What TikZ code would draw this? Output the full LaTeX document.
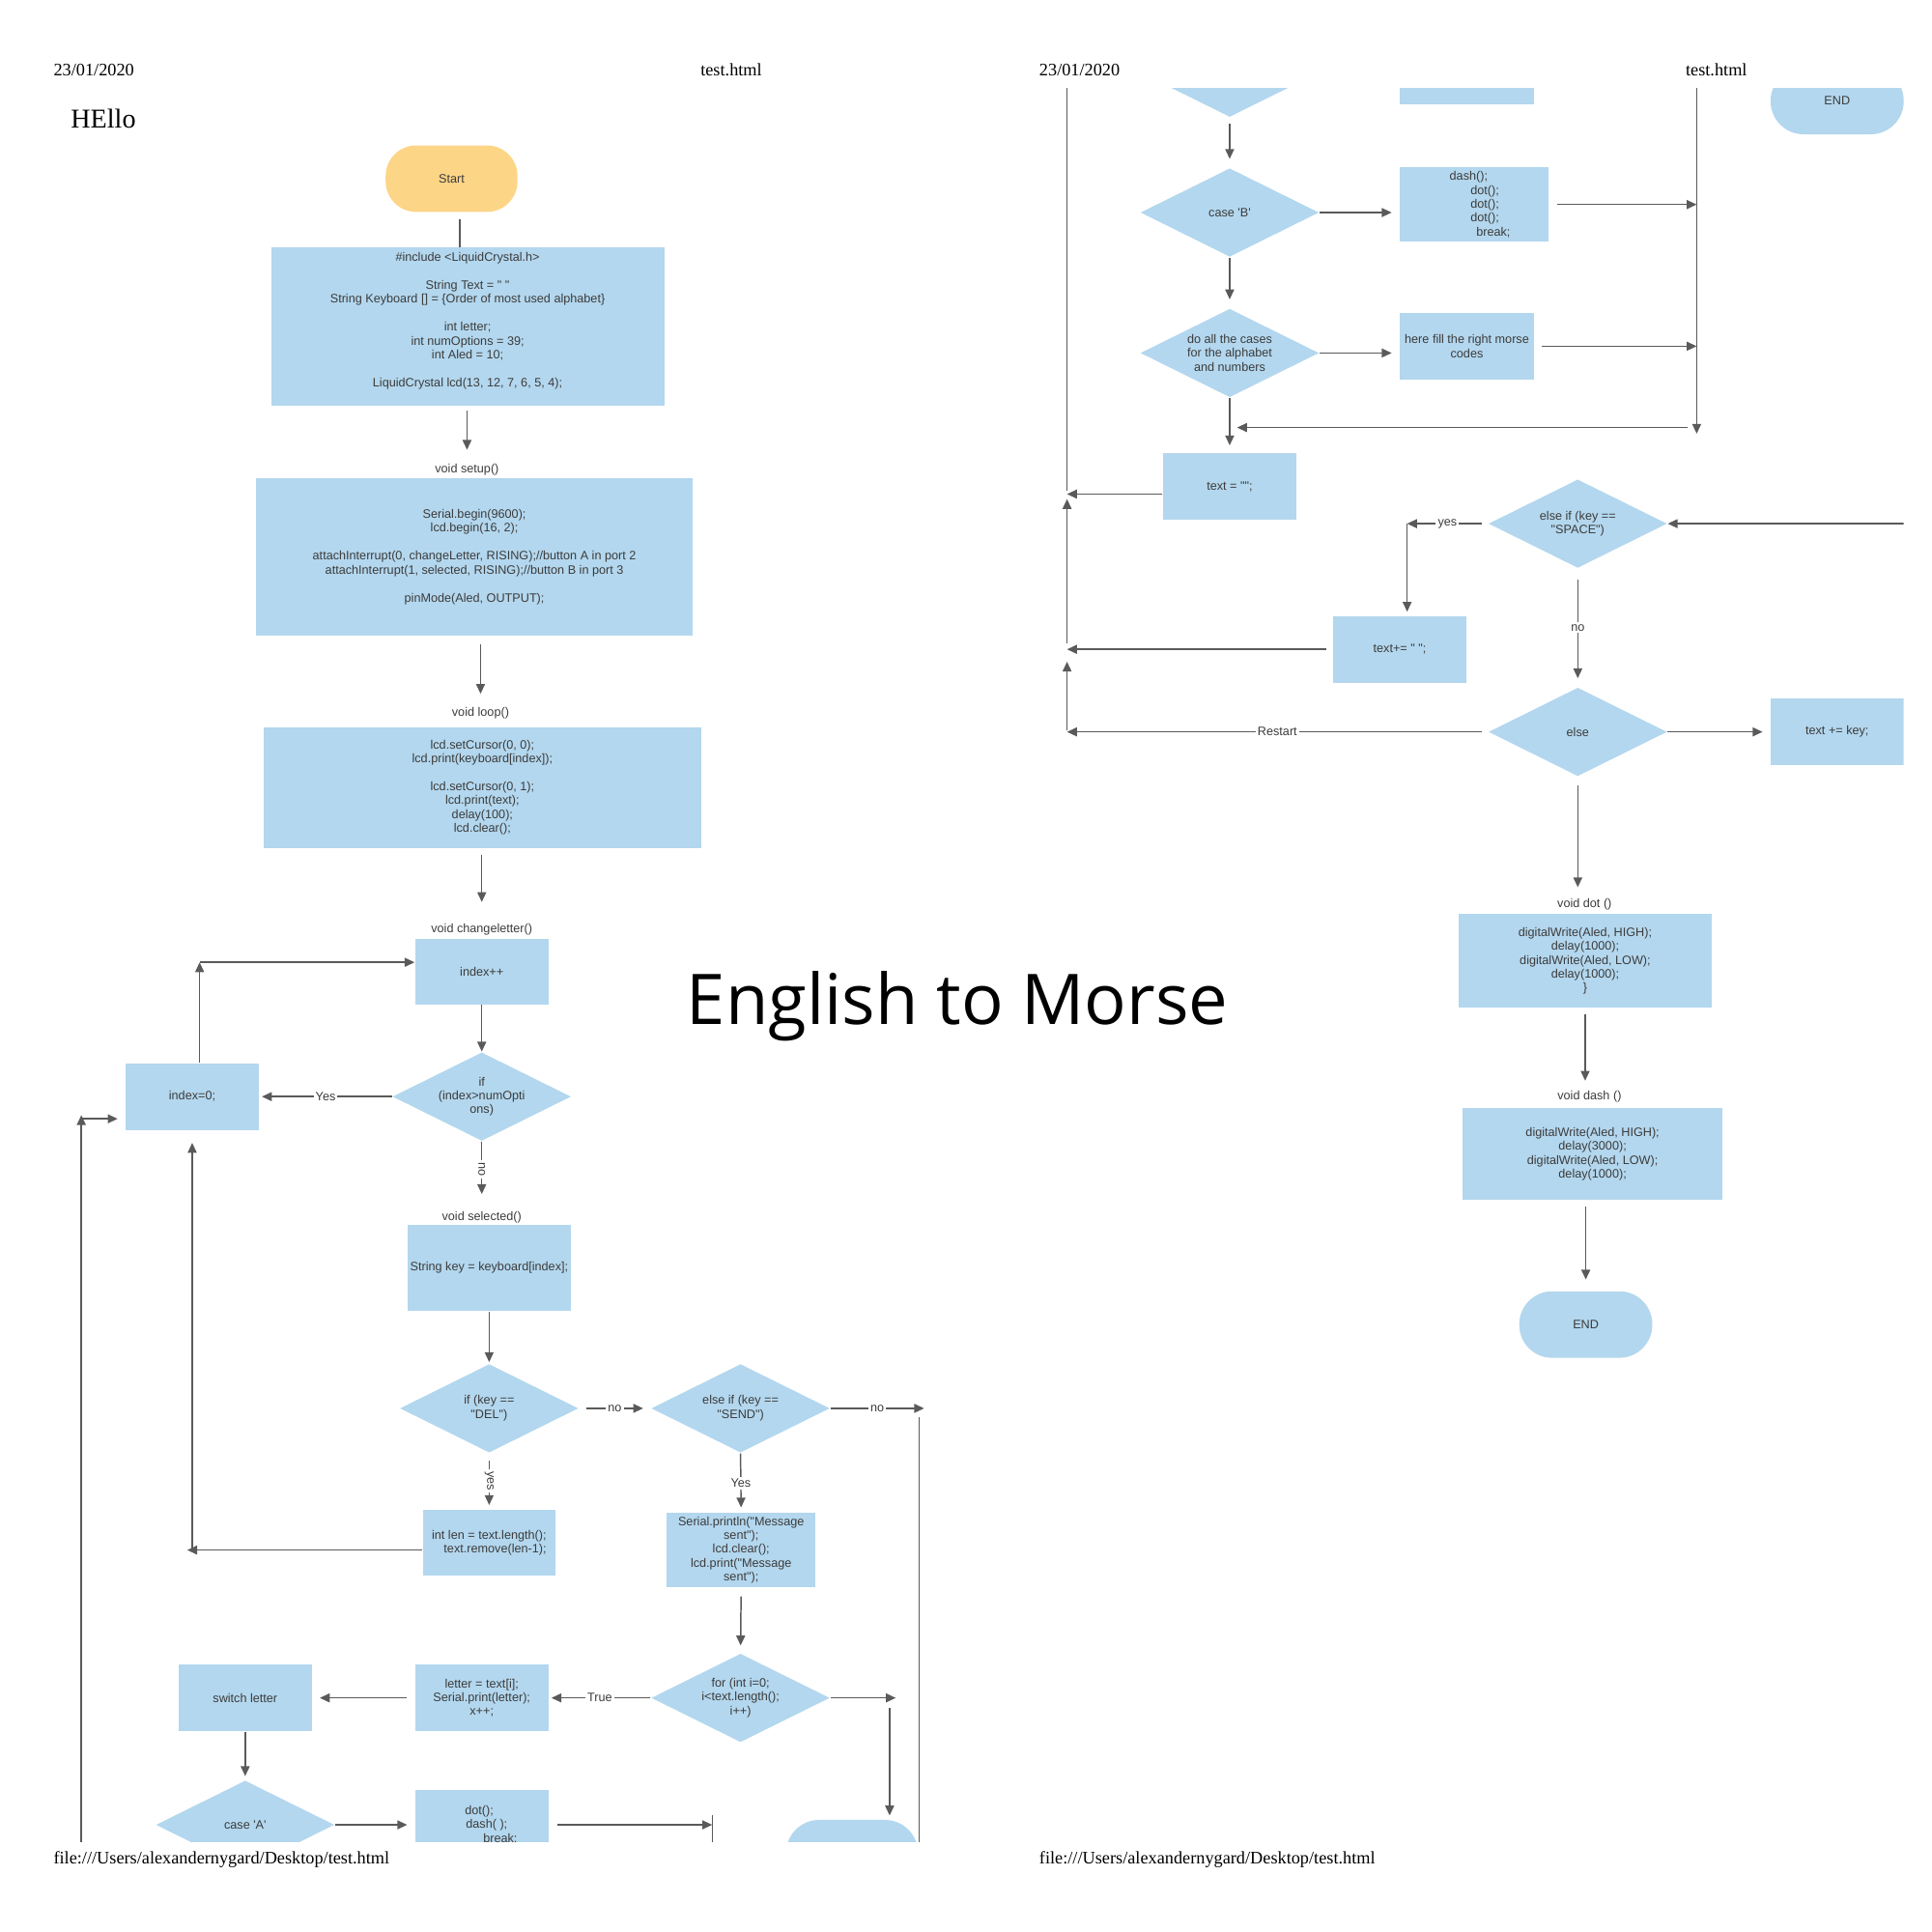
\documentclass[tikz,border=0pt]{standalone}
\usepackage{fontspec}
\setmainfont{Liberation Serif}
\newfontfamily\dg{Liberation Sans}[Ligatures=TeXOff]
\newfontfamily\ttl{Open Sans}
\usepackage{xcolor}
\usepackage{tikz}
\usetikzlibrary{positioning,arrows.meta,shapes.geometric}
\definecolor{BoxBlue}{HTML}{B3D7EE}
\definecolor{StartGold}{HTML}{FCD587}
\definecolor{LineGrey}{HTML}{5A5A5A}
\definecolor{TextGrey}{HTML}{3C3C3C}
\newcommand{\unitpx}{0.012755cm}

\begin{document}
\begin{tikzpicture}[x=0.012755cm, y=-0.012755cm,
    every node/.style={font=\dg\fontsize{3.6}{4.1}\selectfont, text=TextGrey},
    blk/.style 2 args={fill=BoxBlue, minimum width=#1*\unitpx,
                       minimum height=#2*\unitpx, inner sep=0pt, align=center},
    dia/.style={diamond, fill=BoxBlue, minimum width=145*\unitpx,
                minimum height=72*\unitpx, inner sep=0pt},
    dtxt/.style={align=center, inner sep=0pt},
    fnlbl/.style={inner sep=1pt},
    hdr/.style={font=\rmfamily\fontsize{5.2}{6}\selectfont, text=black, inner sep=0pt},
    elbl/.style={fill=white, inner sep=0.6pt},
    ln/.style={draw=LineGrey, line width=0.42pt},
    ar/.style={draw=LineGrey, line width=0.42pt, -{Triangle[length=2.9pt,width=2.6pt]}},
    gap/.style 2 args={shorten <=#1*\unitpx, shorten >=#2*\unitpx}]
  \useasboundingbox (0,0) rectangle (1568,1568);

  % page headers and footers
  \node[hdr, anchor=west] (dateL) at (43,57) {23/01/2020};
  \node[hdr] (fileL) at (593.5,57) {test.html};
  \node[hdr, anchor=west] (dateR) at (843,57) {23/01/2020};
  \node[hdr] (fileR) at (1393,57) {test.html};
  \node[anchor=west, inner sep=0pt, text=black,
        font=\rmfamily\fontsize{8}{9}\selectfont] (hello) at (57,96) {HEllo};
  \node[hdr, anchor=west] (urlL) at (43,1509) {file:///Users/alexandernygard/Desktop/test.html};
  \node[hdr, anchor=west] (urlR) at (843,1509) {file:///Users/alexandernygard/Desktop/test.html};
  \node[text=black, font=\ttl\fontsize{20.6}{24}\selectfont] (title) at (777,817) {English to Morse};

  % left page
  \begin{scope}
    \clip (0,0) rectangle (790,1495);
    \node[fill=StartGold, rounded corners=9pt, minimum width=107*\unitpx,
          minimum height=54*\unitpx] (start) at (366.5,145) {Start};
    \node[blk={319}{128}] (incl) at (379.5,265)
      {\#include <LiquidCrystal.h>\\[4.1pt]
       String Text = " "\\
       String Keyboard [] = \{Order of most used alphabet\}\\[4.1pt]
       int letter;\\ int numOptions = 39;\\ int Aled = 10;\\[4.1pt]
       LiquidCrystal lcd(13, 12, 7, 6, 5, 4);\\ \mbox{}};
    \node[fnlbl] (setuplbl) at (379,381) {void setup()};
    \node[blk={354}{128}] (setup) at (385,452)
      {Serial.begin(9600);\\ lcd.begin(16, 2);\\[4.1pt]
       attachInterrupt(0, changeLetter, RISING);//button A in port 2\\
       attachInterrupt(1, selected, RISING);//button B in port 3\\[4.1pt]
       pinMode(Aled, OUTPUT);};
    \node[fnlbl] (looplbl) at (390,579) {void loop()};
    \node[blk={355}{98}] (loop) at (391.5,639)
      {lcd.setCursor(0, 0);\\ lcd.print(keyboard[index]);\\[4.1pt]
       lcd.setCursor(0, 1);\\ lcd.print(text);\\ delay(100);\\ lcd.clear();};
    \node[fnlbl] (chglbl) at (391,754) {void changeletter()};
    \node[blk={108}{53}] (incr) at (391,788.5) {index++};
    \node[dia, label={[dtxt]center:{if\\(index>numOpti\\ons)}}] (ifnum) at (391,890) {};
    \node[blk={108}{54}] (zero) at (156,890) {index=0;};
    \node[fnlbl] (sellbl) at (391,988) {void selected()};
    \node[blk={132}{70}] (sel) at (397,1029) {String key = keyboard[index];};
    \node[dia, label={[dtxt]center:{if (key ==\\"DEL")}}] (ifdel) at (397,1143) {};
    \node[dia, label={[dtxt]center:{else if (key ==\\"SEND")}}] (ifsend) at (601,1143) {};
    \node[blk={108}{54}] (rem) at (397,1252)
      {int len = text.length();\\ \hspace*{3.5pt}text.remove(len-1);};
    \node[blk={121}{60}] (sent) at (601.5,1258)
      {Serial.println("Message\\ sent");\\ lcd.clear();\\ lcd.print("Message\\ sent");};
    \node[dia, label={[dtxt]center:{for (int i=0;\\i<text.length();\\i++)}}] (forl) at (601,1378) {};
    \node[blk={108}{54}] (lett) at (391,1378) {letter = text[i];\\ Serial.print(letter);\\ x++;};
    \node[blk={108}{54}] (sw) at (199,1378) {switch letter};
    \node[dia, label={[dtxt]center:{case 'A'}}] (caseA) at (199,1481) {};
    \node[blk={108}{56}] (dotA) at (391,1481)
      {dot();\hspace*{1.5pt}\\ \hspace*{2.9pt}dash( );\\ \hspace*{10.9pt}break;};
    \node[blk={107}{54}, rounded corners=9.7pt] (endL) at (691.5,1504) {};

    \coordinate (stdown) at (373,178);
    \draw[ln] (stdown) -- (stdown |- incl.north);
    \draw[ar, gap={4}{8}] (setuplbl.north |- incl.south) -- (setuplbl.north);
    \draw[ar, gap={6}{8}] (looplbl.north |- setup.south) -- (looplbl.north);
    \draw[ar, gap={5}{14}] (chglbl.north |- loop.south) -- (chglbl.north);
    \draw[ar] (incr.south) -- (ifnum.north);
    \draw[ar, gap={0}{11}] (ifnum.south) -- node[elbl, rotate=-90, pos=0.42] (lno1) {no} (sellbl.north);
    \draw[ar, gap={0}{2}] (ifnum.west) -- node[elbl] (lyes1) {Yes} (zero.east);
    \coordinate (zup) at (162,781);
    \draw[ar] (zup |- zero.north) -- (zup);
    \draw[ar] (zup) -- (zup -| incr.west);
    \draw[ar, gap={0}{1}] (sel.south) -- (ifdel.north);
    \draw[ar, gap={6}{6}] (ifdel.east) -- node[elbl] (lno2) {no} (ifsend.west);
    \coordinate (sendno) at (750,1143);
    \draw[ar] (ifsend.east) -- node[elbl] (lno3) {no} (sendno);
    \coordinate (rtop) at (746,1150);
    \coordinate (rbot) at (746,1510);
    \draw[ln] (rtop) -- (rbot);
    \draw[ar, gap={6}{3}] (ifdel.south) -- node[elbl, rotate=-90] (lyes2) {yes} (rem.north);
    \coordinate (delback) at (152,1258);
    \draw[ar] (rem.west |- delback) -- (delback);
    \coordinate (delup) at (156,1258);
    \draw[ar, gap={0}{10}] (delup) -- (zero.south -| delup);
    \coordinate (lfoot) at (66,1510);
    \coordinate (lturn) at (66,905);
    \draw[ar] (lfoot) -- (lturn);
    \coordinate (lin) at (66,908);
    \draw[ar, gap={0}{6}] (lin) -- (lin -| zero.west);
    \draw[ar, gap={0}{4}] (ifsend.south) -- node[elbl] (lyes3) {Yes} (sent.north);
    \draw[ar, gap={7}{6}] (sent.south) -- (forl.north);
    \draw[ar, gap={0}{2}] (forl.west) -- node[elbl] (ltrue) {True} (lett.east);
    \draw[ar, gap={6}{6}] (lett.west) -- (sw.east);
    \draw[ar, gap={0}{3}] (sw.south) -- (caseA.north);
    \draw[ar, gap={0}{6}] (caseA.east) -- (dotA.west);
    \coordinate (brk) at (578,1481);
    \draw[ar, gap={7}{0}] (dotA.east) -- (brk);
    \coordinate (brktop) at (578,1473);
    \coordinate (brkbot) at (578,1510);
    \draw[ln] (brktop) -- (brkbot);
    \coordinate (forout) at (727,1378);
    \draw[ar] (forl.east) -- (forout);
    \coordinate (fordown) at (722,1386);
    \draw[ar, gap={0}{3}] (fordown) -- (fordown |- endL.north);
  \end{scope}

  % right page
  \begin{scope}
    \clip (800,72) rectangle (1545,1568);
    \node[dia] (topdia) at (998,59) {};
    \node[blk={109}{54}] (topbox) at (1190.5,58) {};
    \node[blk={108}{54}, rounded corners=9.7pt] (endtop) at (1491,82) {END};
    \node[dia, label={[dtxt]center:{case 'B'}}] (caseB) at (998,172.5) {};
    \node[blk={121}{60}] (dashB) at (1196.5,166)
      {dash();\hspace*{3.3pt}\\ \hspace*{6.2pt}dot();\\ \hspace*{6.2pt}dot();\\
       \hspace*{6.2pt}dot();\\ \hspace*{11.2pt}break;};
    \node[dia, label={[dtxt]center:{do all the cases\\for the alphabet\\and numbers}}] (allcases) at (998,286.5) {};
    \node[blk={109}{54}] (fillm) at (1190.5,281) {here fill the right morse\\ codes};
    \node[blk={108}{54}] (clr) at (998,395) {text = "";};
    \node[dia, label={[dtxt]center:{else if (key ==\\"SPACE")}}] (ifspace) at (1280.5,425) {};
    \node[blk={108}{54}] (addsp) at (1136,527) {text+= " ";};
    \node[dia, label={[dtxt]center:{else}}] (elsed) at (1280.5,594) {};
    \node[blk={108}{54}] (addkey) at (1491,594) {text += key;};
    \node[fnlbl] (dotlbl) at (1286,734) {void dot ()};
    \node[blk={205}{76}] (dotfn) at (1286.5,780)
      {digitalWrite(Aled, HIGH);\\ delay(1000);\\ digitalWrite(Aled, LOW);\\ delay(1000);\\ \}};
    \node[fnlbl] (dashlbl) at (1290,890) {void dash ()};
    \node[blk={211}{75}] (dashfn) at (1292.5,936.5)
      {digitalWrite(Aled, HIGH);\\ delay(3000);\\ digitalWrite(Aled, LOW);\\ delay(1000);};
    \node[blk={108}{54}, rounded corners=9.7pt] (endR) at (1287,1075) {END};

    \draw[ar, gap={5}{7}] (topdia.south) -- (caseB.north);
    \draw[ar, gap={0}{6}] (caseB.east) -- (caseB.east -| dashB.west);
    \coordinate (colB) at (1377,166);
    \draw[ar, gap={6}{0}] (dashB.east) -- (colB);
    \coordinate (coltop) at (1377,60);
    \coordinate (colbot) at (1377,352);
    \draw[ar] (coltop) -- (colbot);
    \draw[ar, gap={0}{7}] (caseB.south) -- (allcases.north);
    \draw[ar, gap={0}{6}] (allcases.east) -- (allcases.east -| fillm.west);
    \coordinate (colF) at (1377,281);
    \draw[ar, gap={6}{0}] (fillm.east) -- (colF);
    \coordinate (backR) at (1370,347);
    \coordinate (backL) at (1004,347);
    \draw[ar] (backR) -- (backL);
    \draw[ar, gap={0}{6}] (allcases.south) -- (clr.north);
    \coordinate (lcol1) at (866,401);
    \draw[ar] (clr.west |- lcol1) -- (lcol1);
    \coordinate (lctop) at (866,60);
    \coordinate (lcmid) at (866,398);
    \draw[ln] (lctop) -- (lcmid);
    \coordinate (lc2a) at (866,522);
    \coordinate (lc2b) at (866,405);
    \draw[ar] (lc2a) -- (lc2b);
    \coordinate (lc3a) at (866,593);
    \coordinate (lc3b) at (866,537);
    \draw[ar] (lc3a) -- (lc3b);
    \coordinate (spin) at (1560,425);
    \draw[ar] (spin) -- (ifspace.east);
    \coordinate (yescor) at (1142,425);
    \draw[ar, gap={5}{0}] (ifspace.west) -- node[elbl] (lyes4) {yes} (yescor);
    \draw[ar, gap={0}{3}] (yescor) -- (yescor |- addsp.north);
    \coordinate (lcol2) at (866,527);
    \draw[ar, gap={5}{0}] (addsp.west) -- (lcol2);
    \draw[ar, gap={9}{7}] (ifspace.south) -- node[elbl] (lno4) {no} (elsed.north);
    \draw[ar, gap={0}{6}] (elsed.east) -- (addkey.west);
    \coordinate (lcol3) at (866,594);
    \draw[ar, gap={5}{0}] (elsed.west) -- node[elbl] (lrestart) {Restart} (lcol3);
    \draw[ar, gap={7}{6}] (elsed.south) -- (elsed.south |- dotlbl.north);
    \draw[ar, gap={5}{5}] (dotfn.south) -- (dotfn.south |- dashlbl.north);
    \draw[ar, gap={5}{9}] (dashfn.south -| endR) -- (endR.north);
  \end{scope}
\end{tikzpicture}
\end{document}
